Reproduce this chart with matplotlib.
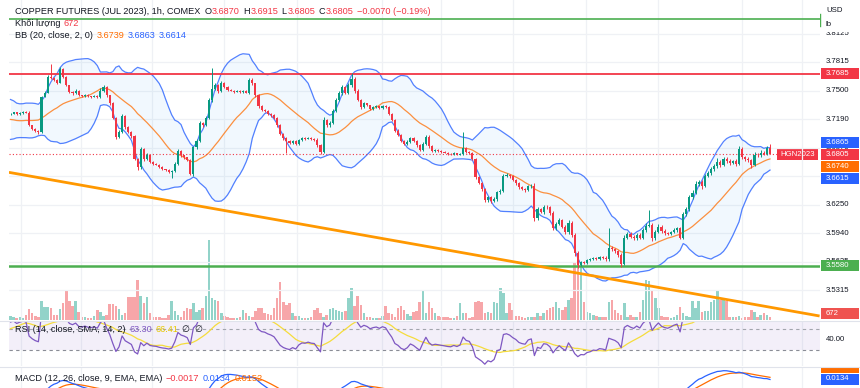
import numpy as np
import pandas as pd
import matplotlib
matplotlib.use("Agg")
import matplotlib.pyplot as plt
from matplotlib.patches import Rectangle

# ---------------- data ----------------
title_text = "COPPER FUTURES (JUL 2023), 1h, COMEX"
prior_closes = [3.7050, 3.7100, 3.7080, 3.7150, 3.7200, 3.7180, 3.7250, 3.7300, 3.7280, 3.7350,
                3.7320, 3.7380, 3.7420, 3.7400, 3.7360, 3.7390, 3.7330, 3.7300, 3.7340, 3.7270,
                3.7400, 3.7350, 3.7380, 3.7300, 3.7260, 3.7200, 3.7150, 3.7080, 3.7020, 3.6980,
                3.7010, 3.7060, 3.7120, 3.7180, 3.7150, 3.7220, 3.7250, 3.7230, 3.7270, 3.7240]
first_open = 3.7245
closes = [
    3.7250, 3.7262, 3.7240, 3.7255, 3.7268, 3.7260, 3.7120, 3.7085, 3.7060, 3.7045,
    3.7435, 3.7480, 3.7650, 3.7640, 3.7620, 3.7590, 3.7740, 3.7650, 3.7560, 3.7490,
    3.7470, 3.7500, 3.7450, 3.7440, 3.7455, 3.7440, 3.7435, 3.7445, 3.7430, 3.7500,
    3.7540, 3.7450, 3.7360, 3.7200, 3.6990, 3.7050, 3.7220, 3.7100, 3.7050, 3.7000,
    3.6750, 3.6660, 3.6860, 3.6750, 3.6800, 3.6720, 3.6700, 3.6690, 3.6660, 3.6640,
    3.6630, 3.6610, 3.6620, 3.6700, 3.6840, 3.6790, 3.6770, 3.6740, 3.6590, 3.6880,
    3.6950, 3.7150, 3.7120, 3.7200, 3.7400, 3.7520, 3.7560, 3.7500, 3.7590, 3.7540,
    3.7510, 3.7500, 3.7490, 3.7500, 3.7485, 3.7495, 3.7480, 3.7620, 3.7580, 3.7450,
    3.7330, 3.7290, 3.7280, 3.7250, 3.7230, 3.7200, 3.7120, 3.7030, 3.6980, 3.6950,
    3.6930, 3.6950, 3.6920, 3.6960, 3.6980, 3.6975, 3.6985, 3.6970, 3.6965, 3.6900,
    3.6830, 3.7180, 3.7120, 3.7150, 3.7280, 3.7400, 3.7470, 3.7540, 3.7480, 3.7560,
    3.7630, 3.7500, 3.7400, 3.7320, 3.7360, 3.7340, 3.7300, 3.7320, 3.7330, 3.7310,
    3.7335, 3.7320, 3.7250, 3.7180, 3.7060, 3.7020, 3.6950, 3.6920, 3.6940, 3.6980,
    3.6950, 3.6900, 3.6850, 3.6920, 3.6990, 3.6890, 3.6840, 3.6850, 3.6840, 3.6830,
    3.6820, 3.6810, 3.6805, 3.6815, 3.6800, 3.6810, 3.6870, 3.6830, 3.6820, 3.6750,
    3.6550, 3.6490, 3.6420, 3.6300, 3.6330, 3.6290, 3.6310, 3.6390, 3.6400, 3.6570,
    3.6580, 3.6560, 3.6520, 3.6490, 3.6440, 3.6420, 3.6410, 3.6450, 3.6460, 3.6100,
    3.6200, 3.6170, 3.6230, 3.6220, 3.6160, 3.5990, 3.6040, 3.6080, 3.6010, 3.5950,
    3.6050, 3.5920, 3.5720, 3.5590, 3.5620, 3.5610, 3.5640, 3.5650, 3.5670, 3.5660,
    3.5680, 3.5670, 3.5650, 3.5780, 3.5760, 3.5740, 3.5700, 3.5600, 3.5890, 3.5930,
    3.5900, 3.5880, 3.5920, 3.5890, 3.5970, 3.6020, 3.6030, 3.5880, 3.5950, 3.6010,
    3.5960, 3.5940, 3.5930, 3.5950, 3.5975, 3.5990, 3.5890, 3.6150, 3.6200, 3.6330,
    3.6380, 3.6480, 3.6500, 3.6460, 3.6570, 3.6600, 3.6640, 3.6670, 3.6720, 3.6690,
    3.6750, 3.6730, 3.6710, 3.6730, 3.6700, 3.6860, 3.6770, 3.6750, 3.6735, 3.6690,
    3.6800, 3.6790, 3.6820, 3.6810, 3.6870, 3.6805]
# wick lengths in units of 0.0001
wick_up = [
    8, 10, 6, 12, 8, 10, 15, 8, 10, 12, 10, 15, 20, 143, 12, 10, 15, 10, 12, 8,
    10, 15, 8, 6, 10, 8, 6, 10, 8, 25, 20, 10, 8, 12, 10, 15, 20, 10, 8, 12,
    15, 10, 20, 12, 15, 10, 8, 6, 8, 10, 6, 8, 10, 15, 20, 12, 10, 8, 10, 15,
    20, 15, 10, 20, 25, 230, 20, 15, 20, 10, 8, 6, 8, 10, 6, 8, 10, 25, 15, 10,
    12, 10, 8, 10, 8, 10, 12, 10, 10, 15, 10, 12, 8, 10, 12, 8, 10, 8, 10, 12,
    15, 30, 15, 20, 15, 20, 25, 20, 15, 20, 60, 20, 15, 10, 15, 10, 8, 12, 10, 8,
    10, 8, 15, 10, 12, 15, 10, 12, 20, 15, 12, 10, 15, 20, 25, 20, 10, 8, 10, 8,
    8, 6, 8, 10, 6, 8, 180, 10, 8, 12, 15, 12, 10, 15, 20, 15, 20, 15, 25, 20,
    15, 10, 12, 10, 8, 10, 12, 15, 20, 25, 30, 15, 20, 20, 15, 20, 25, 20, 15, 20,
    35, 20, 15, 20, 15, 10, 12, 15, 10, 12, 10, 12, 15, 210, 20, 15, 15, 20, 25, 20,
    25, 20, 25, 20, 20, 30, 160, 20, 25, 30, 15, 20, 15, 15, 20, 15, 15, 25, 30, 25,
    30, 25, 20, 25, 20, 25, 25, 30, 40, 25, 25, 20, 20, 15, 20, 30, 20, 15, 20, 15,
    25, 20, 25, 15, 20, 45]
wick_dn = [
    8, 6, 10, 8, 6, 8, 10, 12, 15, 20, 10, 8, 10, 15, 10, 12, 10, 15, 10, 15,
    12, 10, 8, 10, 6, 8, 10, 8, 12, 10, 10, 15, 12, 15, 20, 12, 10, 15, 12, 15,
    15, 30, 15, 20, 10, 12, 10, 8, 10, 12, 10, 12, 67, 15, 10, 12, 15, 10, 15, 20,
    15, 10, 15, 12, 15, 20, 15, 20, 15, 12, 10, 8, 10, 6, 10, 8, 10, 12, 15, 20,
    15, 12, 10, 12, 15, 10, 15, 20, 15, 130, 15, 10, 12, 10, 8, 10, 8, 10, 12, 15,
    20, 15, 20, 15, 10, 15, 10, 15, 20, 15, 15, 20, 15, 20, 10, 12, 10, 8, 10, 12,
    10, 12, 15, 12, 15, 20, 15, 20, 15, 12, 15, 20, 15, 12, 15, 20, 15, 10, 8, 10,
    8, 10, 6, 8, 10, 8, 12, 10, 10, 15, 20, 15, 20, 25, 20, 25, 15, 15, 20, 15,
    12, 15, 15, 20, 15, 12, 15, 12, 15, 25, 20, 15, 20, 15, 20, 20, 15, 15, 20, 25,
    20, 25, 30, 30, 15, 10, 15, 12, 10, 15, 12, 10, 15, 20, 15, 20, 20, 30, 15, 20,
    15, 20, 15, 20, 15, 20, 15, 25, 20, 15, 15, 20, 15, 12, 15, 20, 20, 15, 20, 15,
    20, 15, 25, 40, 20, 15, 20, 20, 15, 25, 20, 25, 20, 15, 20, 15, 20, 25, 20, 40,
    15, 20, 15, 20, 15, 0]
volumes = [
    975, 600, 450, 600, 375, 1125, 2475, 1650, 900, 750,
    4350, 2850, 2850, 2625, 1125, 1125, 2475, 3900, 6525, 4350,
    3150, 4350, 1875, 600, 600, 450, 450, 900, 2250, 1875,
    900, 1125, 3600, 3600, 3150, 2400, 1125, 1650, 5100, 5250,
    5250, 8850, 5400, 3900, 5100, 1500, 600, 600, 750, 450,
    450, 1125, 4350, 2025, 1125, 750, 2025, 2625, 2475, 3750,
    1875, 2250, 2625, 5475, 17850, 4875, 4500, 4350, 1500, 900,
    600, 450, 450, 375, 600, 2250, 1650, 900, 600, 2100,
    2625, 2775, 1650, 1350, 1125, 2775, 4875, 8475, 4125, 3375,
    3750, 1500, 900, 900, 450, 375, 375, 600, 2250, 2775,
    1500, 600, 1125, 2400, 2625, 2250, 2100, 1875, 2100, 4875,
    7125, 3150, 5475, 3375, 1500, 600, 600, 450, 450, 375,
    900, 3150, 1650, 1350, 600, 2625, 3150, 2250, 1350, 900,
    1875, 2100, 4125, 6525, 1500,
    4125, 2625, 1500, 900, 750, 600, 600, 525, 375, 900,
    3750, 1500, 1650, 525, 600, 4125, 4275, 4125, 1500, 1875,
    1500, 4125, 3750, 7125, 6000, 1500, 3750, 2250, 900, 900,
    600, 525, 600, 600, 750, 1500, 900, 1500, 2250, 2625,
    3000, 4125, 2625, 2250, 3000, 4500, 4875, 12750, 13125, 12750,
    4125, 1875, 1500, 1125, 900, 600, 750, 750, 4125, 4500,
    2250, 1500, 1125, 3750, 750, 1125, 600, 600, 1875, 4500,
    9000, 8625, 6750, 4875, 2625, 900, 600, 600, 375, 600,
    1125, 2850, 1500, 900, 750, 4350, 2625, 4350, 1875, 2025,
    2025, 4125, 4500, 6750, 4500, 4500, 4350, 750, 600, 600,
    900, 375, 600, 600, 2250, 1875, 600, 1125, 1500, 1125, 672]
price_ticks = [3.8125, 3.7815, 3.7500, 3.7190, 3.6875, 3.6560, 3.6250, 3.5940, 3.5625, 3.5315]
resistance = 3.7685
support = 3.5580
top_line = 3.8287
trend_x = [-0.5, 261.0]
trend_y = [3.6605, 3.5030]
grid_idx = [3.4, 22.7, 45.6, 68.9, 92.4, 119.8, 138.9, 162.1, 185.6, 208.9, 235.9, 255.3]
rsi_levels = [70, 50, 30]
ohlc_text = [("O", "3.6870"), ("H", "3.6915"), ("L", "3.6805"), ("C", "3.6805")]
change_text = "\u22120.0070 (\u22120.19%)"
last_vals = dict(bb=("3.6739", "3.6863", "3.6614"), rsi=("63.30", "66.41"),
                 macd=("\u22120.0017", "0.0134", "0.0152"))

# ---------------- indicators ----------------
allc = pd.Series(prior_closes + closes, dtype=float)
n0 = len(prior_closes)
N = len(closes)
mid = allc.rolling(20).mean()
sd = allc.rolling(20).std(ddof=0)
bb_mid = mid.values[n0:]
bb_up = (mid + 2 * sd).values[n0:]
bb_lo = (mid - 2 * sd).values[n0:]
d = allc.diff()
g = d.clip(lower=0).ewm(alpha=1 / 14, adjust=False).mean()
l = (-d.clip(upper=0)).ewm(alpha=1 / 14, adjust=False).mean()
rsi_s = 100 - 100 / (1 + g / l)
rsi_ma_s = rsi_s.rolling(14).mean()
rsi = rsi_s.values[n0:]
rsi_ma = rsi_ma_s.values[n0:]
ema12 = allc.ewm(span=12, adjust=False).mean()
ema26 = allc.ewm(span=26, adjust=False).mean()
macd_s = ema12 - ema26
sig_s = macd_s.ewm(span=9, adjust=False).mean()
macd = macd_s.values[n0:]
sig = sig_s.values[n0:]

opens = np.array([first_open] + closes[:-1])
cl = np.array(closes)
hi = np.maximum(opens, cl) + np.array(wick_up) / 10000
lo = np.minimum(opens, cl) - np.array(wick_dn) / 10000
up = cl >= opens
x = np.arange(N)

# ---------------- style ----------------
FONT = ["Liberation Sans Narrow", "Liberation Sans", "DejaVu Sans"]
UP, DN = "#089981", "#f23645"
VUP, VDN = "#92d3c9", "#f7a6a9"
TXT = "#131722"
GRID = "#eff1f5"
W, H = 860, 388
fig = plt.figure(figsize=(W / 100, H / 100), dpi=100)
fig.patch.set_facecolor("white")


def PX(x0, y0, x1, y1):
    return [x0 / W, 1 - y1 / H, (x1 - x0) / W, (y1 - y0) / H]


L, R = 9, 820
XL = ((L - 10.5) / 3.1, (R - 10.5) / 3.1)
MAIN_Y = (3.49861, 3.84948)

ax_vol = fig.add_axes(PX(L, 0, R, 320))
ax = fig.add_axes(PX(L, 0, R, 320))
ax_rsi = fig.add_axes(PX(L, 321, R, 366))
ax_macd = fig.add_axes(PX(L, 367, R, 388))
for a in (ax_vol, ax, ax_rsi, ax_macd):
    a.set_xlim(*XL)
    a.axis("off")
ax_vol.set_zorder(0)
ax.set_zorder(1)
ax.patch.set_visible(False)
ax.set_ylim(*MAIN_Y)
ax_vol.set_ylim(0, 320 * 224)

# grid
for t in price_ticks:
    ax.axhline(t, color=GRID, lw=0.9, zorder=0.5)
for a in (ax, ax_rsi, ax_macd):
    for gx in grid_idx:
        a.axvline(gx, color=GRID, lw=0.9, zorder=0.5)

# volume
ax_vol.bar(x, volumes, width=0.78, color=np.where(up, VUP, VDN), zorder=1)

# bollinger
ax.fill_between(x, bb_lo, bb_up, color="#2196f3", alpha=0.06, lw=0, zorder=1)
ax.plot(x, bb_up, color="#2962ff", lw=0.9, alpha=0.8, zorder=2)
ax.plot(x, bb_lo, color="#2962ff", lw=0.9, alpha=0.8, zorder=2)
ax.plot(x, bb_mid, color="#ff6d00", lw=0.9, alpha=0.75, zorder=2)

# horizontal & trend lines
ax.axhline(resistance, color="#f23645", lw=1.3, zorder=2.5)
ax.axhline(support, color="#4caf50", lw=1.8, zorder=2.5)
ax.axhline(top_line, color="#4caf50", lw=1.2, zorder=2.5)
ax.plot(trend_x, trend_y, color="#ff9800", lw=2.0, zorder=3, solid_capstyle="butt")
ax.plot([XL[0], (778 - 10.5) / 3.1], [closes[-1]] * 2, color="#f23645", lw=0.8,
        ls=(0, (1, 2)), zorder=2.6)

# candles
col = np.where(up, UP, DN)
ax.vlines(x, lo, hi, color=col, lw=0.7, zorder=4)
body = np.maximum(np.abs(cl - opens), 0.0004)
ax.bar(x, body, bottom=np.minimum(opens, cl), width=0.66, color=col, lw=0, zorder=5)

# RSI pane
RSI_Y = (70 - 8 / 0.667, 30 - 10.3 / 0.667)
ax_rsi.set_ylim(RSI_Y[1], RSI_Y[0])
ax_rsi.axhspan(30, 70, color="#7e57c2", alpha=0.09, lw=0, zorder=0.6)
for lv, c in zip(rsi_levels, ["#8a8d96", "#a3a6ae", "#8a8d96"]):
    ax_rsi.axhline(lv, color=c, lw=0.8, ls=(0, (3, 3)), zorder=1)
ax_rsi.plot(x, rsi_ma, color="#f5dc3c", lw=0.9, zorder=2)
ax_rsi.plot(x, rsi, color="#7e57c2", lw=0.9, zorder=3)

# MACD pane
MACD_Y = (0.0134 - 9 / 1194, 0.0134 + 12 / 1194)
ax_macd.set_ylim(*MACD_Y)
ax_macd.plot(x, macd, color="#2962ff", lw=0.9, zorder=3)
ax_macd.plot(x, sig, color="#ff6d00", lw=0.9, zorder=2)

# pane separators
for yy in (320.5, 366.5):
    fig.add_artist(plt.Line2D([0, 1], [1 - yy / H] * 2, color="#e0e3eb", lw=0.8))

# ---------------- price scale ----------------
def scale_axes(y0, y1, ylim):
    s = fig.add_axes(PX(R, y0, 860, y1))
    s.set_xlim(0, 40)
    s.set_ylim(*ylim)
    s.axis("off")
    return s


sc_main = scale_axes(0, 320, MAIN_Y)
sc_rsi = scale_axes(321, 366, (RSI_Y[1], RSI_Y[0]))
sc_macd = scale_axes(367, 388, MACD_Y)
k_main = 320 / (MAIN_Y[1] - MAIN_Y[0])
k_rsi = 45 / (RSI_Y[0] - RSI_Y[1])
k_macd = 21 / (MACD_Y[1] - MACD_Y[0])
SS = 5.6


def tick(sax, y, s):
    sax.text(6, y, s, color=TXT, fontsize=SS, va="center", ha="left", family=FONT, zorder=1)


def box(sax, k, y, s, fc, tc="white"):
    h = 11 / k
    sax.add_patch(Rectangle((0.6, y - h / 2), 38.2, h, fc=fc, ec="none", zorder=3))
    sax.text(5.6, y, s, color=tc, fontsize=SS, va="center", ha="left", family=FONT,
             zorder=4, clip_on=True)


def stack(vals, anchor, k, gap_px=12):
    gp = gap_px / k
    pos = list(vals)
    order = sorted(range(len(vals)), key=lambda j: -vals[j])
    a = order.index(anchor)
    for m in range(a - 1, -1, -1):
        j, jn = order[m], order[m + 1]
        pos[j] = max(vals[j], pos[jn] + gp)
    for m in range(a + 1, len(order)):
        j, jp = order[m], order[m - 1]
        pos[j] = min(vals[j], pos[jp] - gp)
    return pos


for t in price_ticks:
    tick(sc_main, t, f"{t:.4f}")
box(sc_main, k_main, resistance, f"{resistance:.4f}", "#f23645")
box(sc_main, k_main, support, f"{support:.4f}", "#4caf50")
cl_vals = [3.6865, closes[-1], 3.6740, 3.6615]
cl_cols = ["#2962ff", "#f23645", "#ff6d00", "#2962ff"]
for v, p, c in zip(cl_vals, stack(cl_vals, 1, k_main), cl_cols):
    box(sc_main, k_main, p, f"{v:.4f}", c)
vol_pos = MAIN_Y[0] + 6.5 / k_main
box(sc_main, k_main, vol_pos, str(volumes[-1]), "#ef5350")
# USD / lb header
sc_main.add_patch(Rectangle((0, MAIN_Y[1] - 32 / k_main), 40, 32 / k_main, fc="white",
                            ec="none", zorder=2))
sc_main.text(6, MAIN_Y[1] - 10 / k_main, "USD", color=TXT, fontsize=SS, va="center",
             family=FONT, zorder=3)
sc_main.text(6, MAIN_Y[1] - 24.5 / k_main, "lb", color=TXT, fontsize=SS, va="center",
             family=FONT, zorder=3)
sc_main.plot([0.3, 0.3], [MAIN_Y[1] - 14 / k_main, MAIN_Y[1] - 26 / k_main],
             color="#4caf50", lw=1.0, zorder=3)

tick(sc_rsi, 40, "40.00")
r_vals = [63.30, 66.41]
for v, p, c, tc in zip(r_vals, stack(r_vals, 0, k_rsi), ["#7e57c2", "#f7e34b"], ["white", TXT]):
    box(sc_rsi, k_rsi, p, f"{v:.2f}", c, tc)
m_vals = [0.0134, 0.0152]
for v, p, c in zip(m_vals, stack(m_vals, 0, k_macd), ["#2962ff", "#ff6d00"]):
    box(sc_macd, k_macd, p, f"{v:.4f}", c)

# HGN2023 tag
tag = fig.add_axes(PX(777, 148.5, 818, 159.5))
tag.axis("off")
tag.add_patch(Rectangle((0, 0), 1, 1, fc="#f23645", ec="none", transform=tag.transAxes))
tag.text(0.5, 0.5, "HGN2023", color="white", fontsize=SS, ha="center", va="center",
         family=FONT, transform=tag.transAxes)

# ---------------- legends ----------------
renderer = fig.canvas.get_renderer()
LS = 6.6


def legend(xp, yp, parts):
    for s, c, gap in parts:
        t = fig.text(xp / W, 1 - yp / H, s, color=c, fontsize=LS, va="center", ha="left",
                     family=FONT, zorder=10)
        xp += t.get_window_extent(renderer).width + gap


red = "#f23645"
parts = [(title_text, TXT, 4)]
for k_, v_ in ohlc_text:
    parts += [(k_, TXT, 0.5), (v_, red, 3.5)]
parts += [(change_text, red, 0)]
legend(15, 11.5, parts)
legend(15, 23.5, [("Khối lượng", TXT, 3.5), (str(volumes[-1]), red, 0)])
bbv = last_vals["bb"]
legend(15, 35.5, [("BB (20, close, 2, 0)", TXT, 3.5), (bbv[0], "#ff6d00", 3.5),
                  (bbv[1], "#2962ff", 3.5), (bbv[2], "#2962ff", 0)])
rv = last_vals["rsi"]
legend(15, 329.5, [("RSI (14, close, SMA, 14, 2)", TXT, 3.5), (rv[0], "#7e57c2", 3.5),
                   (rv[1], "#e6c800", 3.5), ("\u2205  \u2205", TXT, 0)])
mv = last_vals["macd"]
legend(15, 378.5, [("MACD (12, 26, close, 9, EMA, EMA)", TXT, 3.5), (mv[0], red, 3.5),
                   (mv[1], "#2962ff", 3.5), (mv[2], "#ff6d00", 0)])

fig.savefig("out.png", dpi=100, facecolor="white")
